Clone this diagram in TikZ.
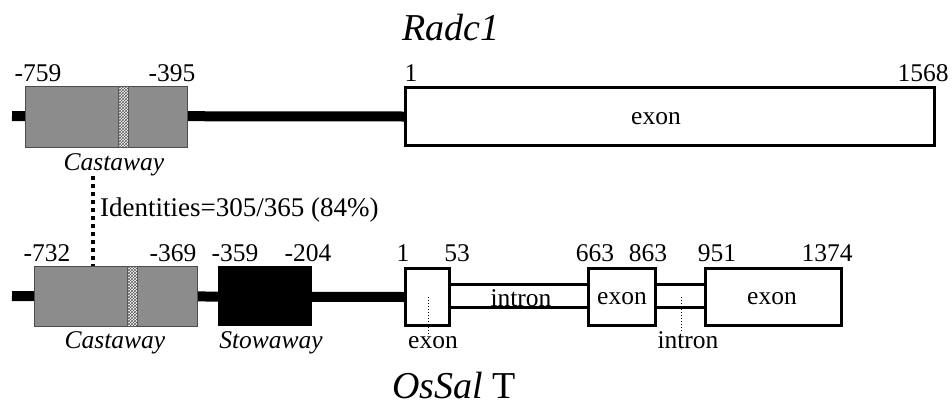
\documentclass[tikz,border=0pt]{standalone}
\usepackage{fontspec}
\setmainfont{Liberation Serif}
\usetikzlibrary{patterns,backgrounds}

\begin{document}
\begin{tikzpicture}[x=1pt,y=-1pt,
  box/.style={inner sep=0pt,outer sep=0pt},
  cast/.style={box,draw=black!70,line width=0.8pt,fill=black!45,minimum width=162pt,minimum height=61pt},
  hatch/.style={box,draw=black!65,line width=0.6pt,preaction={fill=white},pattern=crosshatch,pattern color=black!65,minimum width=10pt,minimum height=61pt},
  stow/.style={box,fill=black,minimum width=94pt,minimum height=60pt},
  ex/.style={box,draw,line width=3pt,fill=white,minimum height=57pt},
  intr/.style={box,draw,line width=3pt,fill=white,minimum height=23pt},
  dna/.style={line width=10pt},
  num/.style={inner sep=0pt,anchor=base,font=\fontsize{25.5}{28}\selectfont},
  elem/.style={num,font=\fontsize{25.5}{28}\selectfont\itshape},
  title/.style={inner sep=0pt,anchor=base west,font=\fontsize{38}{40}\selectfont\itshape}]
\useasboundingbox (0,0) rectangle (952,405);
% Radc1
\node[title] (radc) at (402,40) {Radc1};
\node[cast] (cast1) at (106,116.5) {};
\node[hatch] (hat1) at (123,116.5) {};
\node[ex,minimum width=529pt,minimum height=58pt] (radex) at (670,116.5) {};
\node[num] (radlab) at (656,124) {exon};
\coordinate (ta) at (12,116);
\begin{scope}[on background layer]
\draw[dna] (ta) -- (radex.west);
\end{scope}
\node[num] (n759) at (38,81) {-759};
\node[num] (n395) at (172,81) {-395};
\node[num] (r1) at (411,81) {1};
\node[num] (r1568) at (923,81) {1568};
\node[elem] (castlab1) at (114,170) {Castaway};
% identity
\coordinate (idtop) at (93,176);
\node[num,anchor=base west,font=\fontsize{27}{30}\selectfont] (ident) at (100,216) {Identities=305/365 (84\%)};
% OsSalT
\node[cast,minimum width=163pt,minimum height=60pt] (cast2) at (115.5,296) {};
\node[hatch,minimum height=60pt] (hat2) at (132,296) {};
\node[stow] (stow) at (265,296) {};
\node[intr,minimum width=142pt] (in1) at (519,296) {};
\node[intr,minimum width=53pt] (in2) at (680.5,296) {};
\node[ex,minimum width=44pt] (ex1) at (427.5,297) {};
\node[ex,minimum width=67pt] (ex2) at (622,297) {};
\node[ex,minimum width=136pt] (ex3) at (773.5,297) {};
\coordinate (ba) at (12,296);
\begin{scope}[on background layer]
\draw[dna] (ba) -- (ex1.west);
\end{scope}
\draw[line width=4pt,dash pattern=on 4pt off 4pt] (idtop) -- (idtop |- cast2.north);
\node[num] (n732) at (47,261) {-732};
\node[num] (n369) at (173,261) {-369};
\node[num] (n359) at (235,261) {-359};
\node[num] (n204) at (308,261) {-204};
\node[num] (o1) at (403,261) {1};
\node[num] (o53) at (457,261) {53};
\node[num] (o663) at (595,261) {663};
\node[num] (o863) at (648,261) {863};
\node[num] (o951) at (717,261) {951};
\node[num] (o1374) at (827,261) {1374};
\node[num] (in1lab) at (521,306) {intron};
\node[num] (ex2lab) at (622,304) {exon};
\node[num] (ex3lab) at (772,304) {exon};
\node[elem] (castlab2) at (115,348) {Castaway};
\node[elem] (stowlab) at (271,348) {Stowaway};
\coordinate (e1in) at (428,297);
\coordinate (i2in) at (681,297);
\node[num] (ex1lab) at (433,348) {exon};
\node[num] (in2lab) at (688,348) {intron};
\draw[dotted,line width=1pt] (e1in) -- (e1in |- ex1lab.north);
\draw[dotted,line width=1pt] (i2in) -- (i2in |- in2lab.north);
\node[title] (ossal) at (392,398) {OsSal\/ \upshape T};
\end{tikzpicture}
\end{document}
